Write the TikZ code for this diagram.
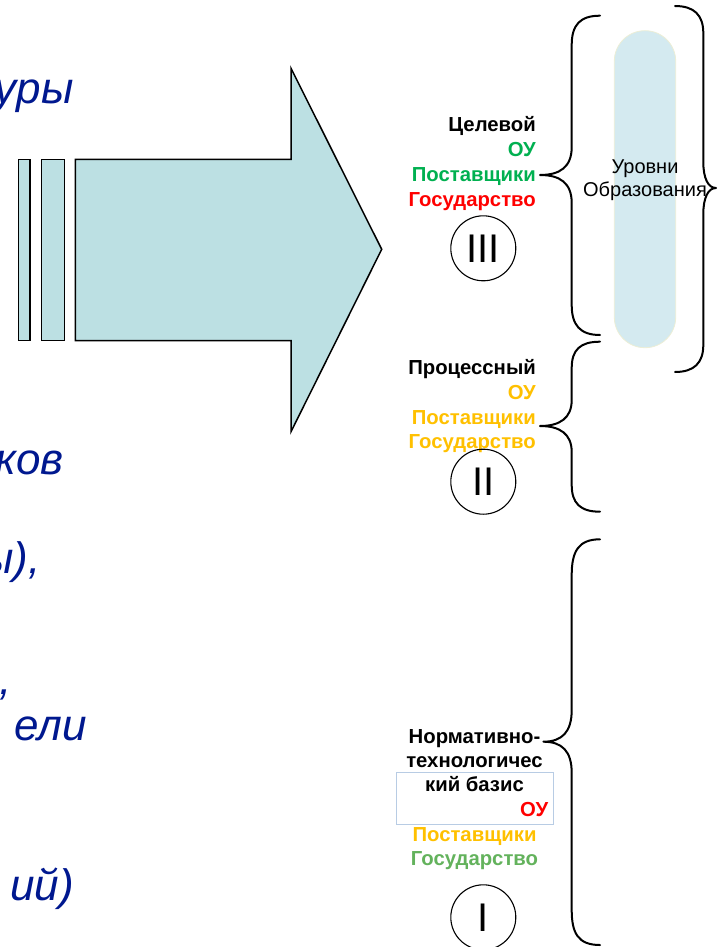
\documentclass[tikz,border=0pt]{standalone}
\usepackage{fontspec}
\setmainfont{Liberation Sans}
\definecolor{navy}{RGB}{0,24,143}
\definecolor{arrowfill}{RGB}{188,224,227}
\definecolor{pillfill}{RGB}{212,234,240}
\definecolor{pillline}{RGB}{236,238,214}
\definecolor{ogreen}{RGB}{0,176,80}
\definecolor{lgreen}{RGB}{99,178,92}
\definecolor{ored}{RGB}{255,0,0}
\definecolor{oyellow}{RGB}{255,192,0}
\definecolor{boxline}{RGB}{184,204,228}
\begin{document}
\begin{tikzpicture}[x=1pt,y=-1pt,
  lefttxt/.style={anchor=base east, inner sep=0pt, text=navy, font=\fontsize{44}{50}\selectfont\itshape},
  lbl/.style={anchor=base east, inner sep=0pt, font=\fontsize{20.3}{24}\selectfont\bfseries},
  clbl/.style={anchor=base, inner sep=0pt, font=\fontsize{20.3}{24}\selectfont\bfseries},
  bracestyle/.style={line width=2pt, line cap=round, line join=round},
  roman/.style={circle, draw, line width=1.1pt, minimum size=65pt, inner sep=0pt, font=\fontsize{40}{44}\selectfont},
  shapestyle/.style={draw, line width=1.5pt, fill=arrowfill, line join=miter}]
\useasboundingbox (0,0) rectangle (718,947);
\clip (0,0) rectangle (718,947);

% left cut-off text
\node[lefttxt] (t1) at (74,104) {уры};
\node[lefttxt] (t2) at (64,474) {ков};
\node[lefttxt] (t3) at (41,573) {ы),};
\node[lefttxt] (t4) at (12,694) {,};
\node[lefttxt] (t5) at (87,740) {ели};
\node[lefttxt] (t6) at (74,900) {ий)};

% big arrow and bars
\draw[shapestyle] (18.3,159.3) rectangle (30,340.7);
\draw[shapestyle] (41.7,159.3) rectangle (64.3,340.7);
\draw[shapestyle] (75.3,159.3) -- (291,159.3) -- (291,68.3) -- (381.7,249.3)
  -- (291,431.7) -- (291,340.7) -- (75.3,340.7) -- cycle;

% pill
\draw[fill=pillfill, draw=pillline, line width=0.8pt, rounded corners=30.5pt]
  (614.3,30.7) rectangle (675.7,347.7);
\node[align=center, inner sep=0pt, font=\fontsize{20}{22.5}\selectfont] (lev) at (645,180) {Уровни\\Образования};

% braces
\draw[bracestyle] (600,15.7) .. controls (580,15.7) and (571.7,25) .. (571.7,45)
  -- (571.7,147) .. controls (571.7,167) and (560,175) .. (540,175)
  .. controls (560,175) and (571.7,183) .. (571.7,203)
  -- (571.7,305) .. controls (571.7,325) and (580,335) .. (600,335);
\draw[bracestyle] (600,341.7) .. controls (580,341.7) and (571.7,350) .. (571.7,368)
  -- (571.7,400) .. controls (571.7,418) and (560,426) .. (540,426)
  .. controls (560,426) and (571.7,434) .. (571.7,452)
  -- (571.7,485) .. controls (571.7,503) and (580,511.7) .. (600,511.7);
\draw[bracestyle] (600,539.3) .. controls (578,539.3) and (571.7,552) .. (571.7,575)
  -- (571.7,710) .. controls (571.7,732) and (562,741.7) .. (543.3,741.7)
  .. controls (562,741.7) and (571.7,751) .. (571.7,773)
  -- (571.7,910) .. controls (571.7,933) and (578,945) .. (600,945);
\draw[bracestyle] (675,6) .. controls (694,6) and (703.3,15) .. (703.3,33)
  -- (703.3,162) .. controls (703.3,178) and (708,188) .. (716,188)
  .. controls (708,188) and (703.3,198) .. (703.3,214)
  -- (703.3,345) .. controls (703.3,363) and (694,372) .. (675,372);

% level III
\node[lbl] (c1) at (536,131.7) {Целевой};
\node[lbl, text=ogreen] (c2) at (536,156.7) {ОУ};
\node[lbl, text=ogreen] (c3) at (536,181.3) {Поставщики};
\node[lbl, text=ored] (c4) at (536,206) {Государство};
\node[roman] (r3) at (483.3,248.3) {III};

% level II
\node[lbl] (p1) at (536,374) {Процессный};
\node[lbl, text=oyellow] (p2) at (536,399.3) {ОУ};
\node[lbl, text=oyellow] (p3) at (536,424) {Поставщики};
\node[lbl, text=oyellow] (p4) at (536,448.3) {Государство};
\node[roman] (r2) at (483.3,481.7) {II};

% level I
\draw[draw=boxline, line width=0.8pt] (396,772.7) rectangle (553.3,824.3);
\node[clbl] (n1) at (474.5,743.3) {Нормативно-};
\node[clbl] (n2) at (474.5,767.3) {технологичес};
\node[clbl] (n3) at (474.5,791.7) {кий базис};
\node[lbl, text=ored] (n4) at (548.3,816.7) {ОУ};
\node[clbl, text=oyellow] (n5) at (474.5,841.7) {Поставщики};
\node[clbl, text=lgreen] (n6) at (474.5,865) {Государство};
\node[roman] (r1) at (483.3,917.3) {I};
\end{tikzpicture}
\end{document}
